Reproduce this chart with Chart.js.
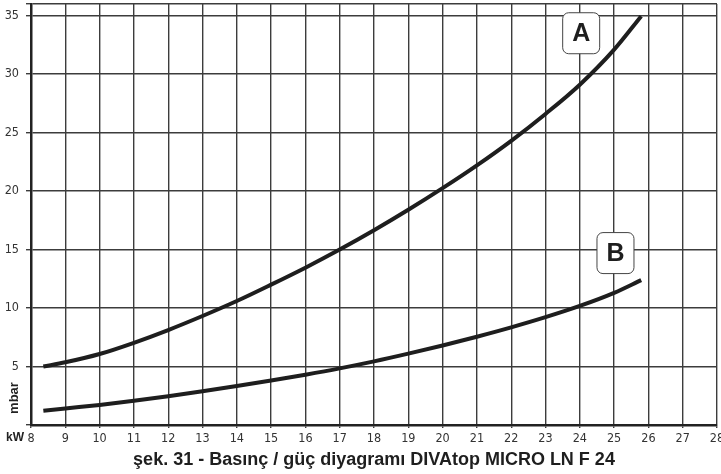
<!DOCTYPE html>
<html>
<head>
<meta charset="utf-8">
<script src="https://cdn.jsdelivr.net/npm/chart.js@4"></script>
<style>
  body { margin: 0; background: #fff; }
  canvas { display: block; }
</style>
</head>
<body>
<canvas id="diyagram" width="721" height="474"></canvas>
<script>
// güç (kW) değerleri, iki eğri için ortak
const kwValues = [8.36, 9, 10, 11, 12, 13, 14, 15, 16, 17, 18, 19, 20, 21, 22, 23, 24, 25, 25.79];
// eğri A basınç (mbar)
const pressureA = [5.0, 5.36, 6.07, 7.03, 8.12, 9.32, 10.6, 12.0, 13.45, 15.0, 16.65, 18.4, 20.25, 22.2, 24.3, 26.6, 29.1, 32.1, 34.96];
// eğri B basınç (mbar)
const pressureB = [1.22, 1.42, 1.72, 2.07, 2.46, 2.88, 3.33, 3.8, 4.3, 4.84, 5.44, 6.1, 6.8, 7.55, 8.35, 9.22, 10.18, 11.3, 12.39];

// eğri etiketleri ve konumları (veri birimi)
const curveNames = ["A", "B"];
const labelKw = [24.04, 25.04];
const labelMbar = [33.5, 14.7];

// eksen tick değerleri
const yTicks = [0, 5, 10, 15, 20, 25, 30, 35, 36];
const titleText = "şek. 31 - Basınç / güç diyagramı DIVAtop MICRO LN F 24";

function toPoints(xs, ys) {
  return xs.map(function (x, i) { return { x: x, y: ys[i] }; });
}

const tickFont = { family: "'Liberation Sans Narrow', 'DejaVu Sans Condensed', sans-serif", size: 12.5 };

// kutulu harf etiketleri, eksen yazıları ve başlık
const extrasPlugin = {
  id: "extras",
  afterDatasetsDraw(chart) {
    const ctx = chart.ctx;
    const xs = chart.scales.x, ys = chart.scales.y;
    ctx.save();
    curveNames.forEach(function (name, i) {
      const cx = xs.getPixelForValue(labelKw[i]);
      const cy = ys.getPixelForValue(labelMbar[i]);
      const w = 37, h = 41;
      ctx.beginPath();
      ctx.roundRect(cx - w / 2, cy - h / 2, w, h, 6);
      ctx.fillStyle = "#fff";
      ctx.fill();
      ctx.lineWidth = 1;
      ctx.strokeStyle = "#444";
      ctx.stroke();
      ctx.fillStyle = "#1e1e1e";
      ctx.font = "bold 25px 'Liberation Sans', Arial, sans-serif";
      ctx.textAlign = "center";
      ctx.textBaseline = "middle";
      ctx.fillText(name, cx, cy + 1);
    });
    ctx.restore();
  },
  afterDraw(chart) {
    const ctx = chart.ctx;
    const area = chart.chartArea;
    ctx.save();
    ctx.fillStyle = "#222";
    ctx.font = "bold 12px 'Liberation Sans', Arial, sans-serif";
    ctx.textAlign = "center";
    ctx.textBaseline = "middle";
    ctx.fillText("kW", 15, area.bottom + 13);

    ctx.translate(14, area.bottom - 27);
    ctx.rotate(-Math.PI / 2);
    ctx.font = "bold 13px 'Liberation Sans', Arial, sans-serif";
    ctx.fillText("mbar", 0, 0);
    ctx.restore();

    ctx.save();
    ctx.fillStyle = "#1e1e1e";
    ctx.font = "bold 18px 'Liberation Sans', Arial, sans-serif";
    ctx.textAlign = "center";
    ctx.textBaseline = "middle";
    ctx.fillText(titleText, 374, 460);
    ctx.restore();
  }
};

new Chart(document.getElementById("diyagram"), {
  type: "line",
  data: {
    datasets: [
      {
        label: "A",
        data: toPoints(kwValues, pressureA),
        borderColor: "#1e1e1e",
        borderWidth: 4,
        pointRadius: 0,
        cubicInterpolationMode: "monotone",
        fill: false
      },
      {
        label: "B",
        data: toPoints(kwValues, pressureB),
        borderColor: "#1e1e1e",
        borderWidth: 4,
        pointRadius: 0,
        cubicInterpolationMode: "monotone",
        fill: false
      }
    ]
  },
  options: {
    responsive: false,
    animation: false,
    layout: { padding: { top: 4, right: 4, left: 0, bottom: 0 } },
    plugins: {
      legend: { display: false },
      tooltip: { enabled: false },
      title: { display: false }
    },
    scales: {
      x: {
        type: "linear",
        min: 8,
        max: 28,
        ticks: { stepSize: 1, color: "#333", font: tickFont, padding: 3, maxRotation: 0, autoSkip: false },
        grid: { color: "#3c3c3c", lineWidth: 1.4, tickLength: 3 },
        border: { color: "#222", width: 2.5 },
        afterFit(scale) {
          scale.height = 49;
          scale.paddingLeft = 0;
          scale.paddingRight = 0;
        }
      },
      y: {
        type: "linear",
        min: 0,
        max: 36,
        afterBuildTicks(scale) {
          scale.ticks = yTicks.map(function (v) { return { value: v }; });
        },
        ticks: {
          color: "#333",
          font: tickFont,
          padding: 7,
          callback: function (v) { return (v > 0 && v % 5 === 0) ? v : ""; }
        },
        grid: { color: "#3c3c3c", lineWidth: 1.4, tickLength: 5 },
        border: { color: "#222", width: 2.5 },
        afterFit(scale) {
          scale.width = 31;
          scale.paddingTop = 0;
          scale.paddingBottom = 0;
        }
      }
    }
  },
  plugins: [extrasPlugin]
});
</script>
</body>
</html>
